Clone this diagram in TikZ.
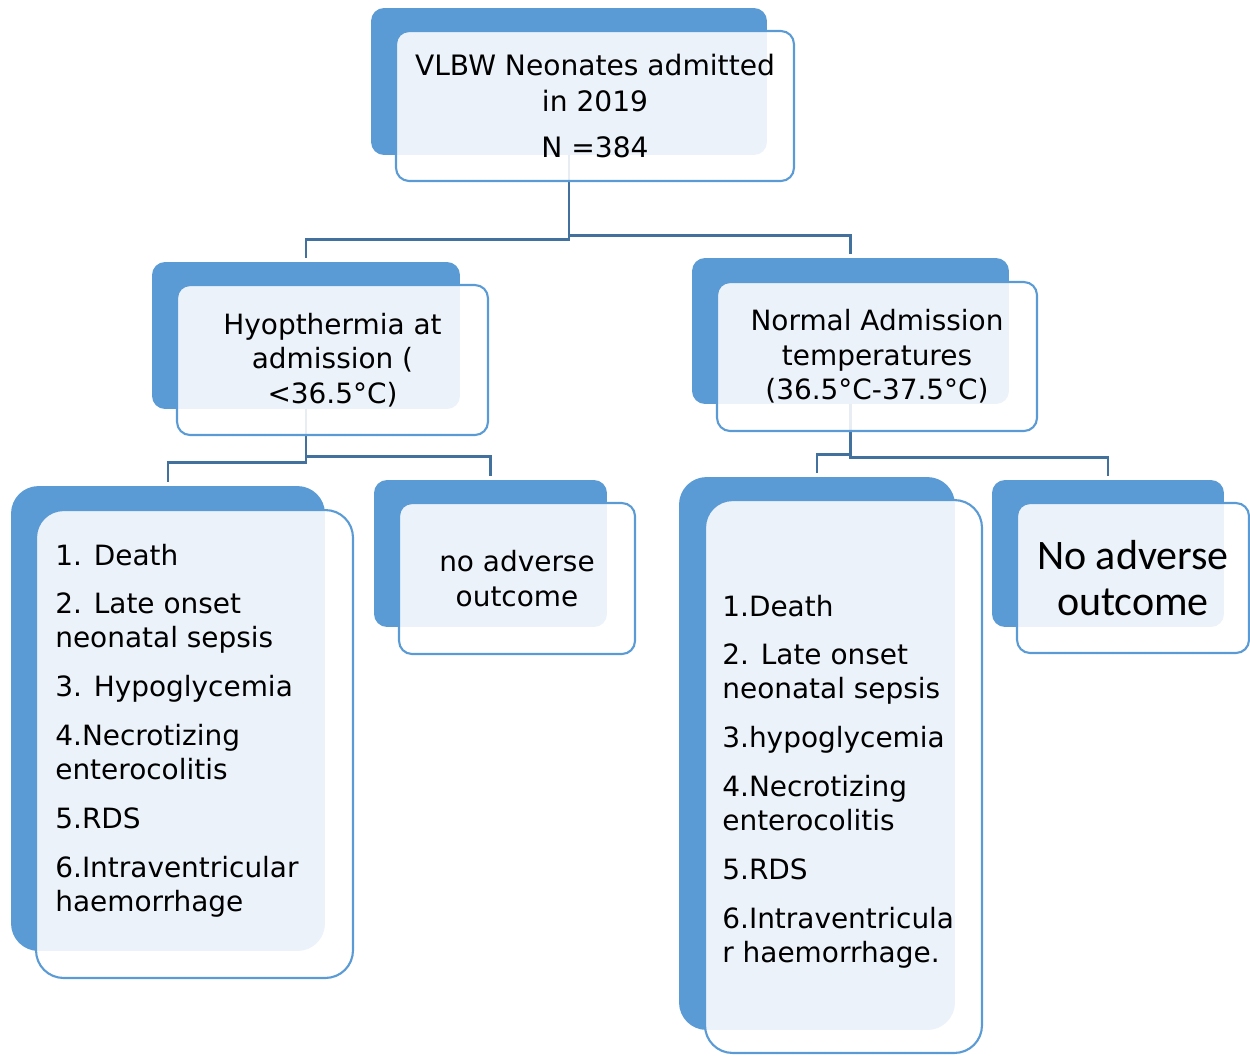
\documentclass[tikz,border=0pt]{standalone}
\usepackage{fontspec}
\setmainfont{DejaVu Sans}
\newfontfamily\calfont{Carlito}
\definecolor{boxblue}{HTML}{5B9BD5}
\definecolor{connblue}{HTML}{41719C}
\tikzset{
  backbox/.style={rectangle, fill=boxblue, inner sep=0pt, rounded corners=0.26cm},
  frontbox/.style={rectangle, fill=white, fill opacity=0.88, text opacity=1, draw=boxblue, line width=1.2pt, inner sep=0pt, rounded corners=0.26cm, align=center, font=\fontsize{15.9}{19.6}\selectfont},
  conn/.style={draw=connblue, line width=1.5pt, shorten >=2pt},
  listtext/.style={anchor=north west, inner sep=0pt, align=left, font=\fontsize{15.9}{19.3}\selectfont},
}
\begin{document}
\begin{tikzpicture}[x=0.02cm, y=-0.02cm]
\useasboundingbox (0,0) rectangle (1250,1055);
% back boxes
\node[backbox, minimum width=7.92cm, minimum height=2.94cm] (B1) at (569,81.5) {};
\node[backbox, minimum width=6.16cm, minimum height=2.94cm] (B2) at (306,335.5) {};
\node[backbox, minimum width=6.34cm, minimum height=2.92cm] (B3) at (850.5,331) {};
\node[backbox, minimum width=6.28cm, minimum height=9.3cm, rounded corners=0.55cm] (B4) at (168,718.5) {};
\node[backbox, minimum width=4.66cm, minimum height=2.94cm] (B5) at (490.5,553.5) {};
\node[backbox, minimum width=5.52cm, minimum height=11.06cm, rounded corners=0.55cm] (B6) at (817,753.5) {};
\node[backbox, minimum width=4.64cm, minimum height=2.94cm] (B7) at (1108,553.5) {};
% connectors
\draw[conn] (B1.south) -- ++(0,84) -| (B2.north);
\draw[conn] (B1.south) -- ++(0,80) -| (B3.north);
\draw[conn] (B2.south) -- ++(0,53) -| (B4.north);
\draw[conn] (B2.south) -- ++(0,47) -| (B5.north);
\draw[conn] (B3.south) -- ++(0,50) -| (B6.north);
\draw[conn] (B3.south) -- ++(0,53) -| (B7.north);
% front boxes
\node[frontbox, minimum width=7.96cm, minimum height=3.0cm, font=\fontsize{16}{20.4}\selectfont] (F1) at (595,106)
  {VLBW Neonates admitted\\ in 2019\\[6pt] N =384};
\node[frontbox, minimum width=6.22cm, minimum height=3.0cm] (F2) at (332.5,360)
  {Hyopthermia at\\ admission (\\ <36.5\textdegree C)};
\node[frontbox, minimum width=6.4cm, minimum height=2.98cm] (F3) at (877,356.5)
  {Normal Admission\\ temperatures\\ (36.5\textdegree C-37.5\textdegree C)};
\node[frontbox, minimum width=6.34cm, minimum height=9.36cm, rounded corners=0.55cm] (F4) at (194.5,744) {};
\node[frontbox, minimum width=4.72cm, minimum height=3.02cm] (F5) at (517,578.5)
  {no adverse\\ outcome};
\node[frontbox, minimum width=5.54cm, minimum height=11.06cm, rounded corners=0.55cm] (F6) at (843.5,776.5) {};
\node[frontbox, minimum width=4.64cm, minimum height=3.0cm, font=\calfont\fontsize{23.9}{26.6}\selectfont] (F7) at (1133,578)
  {No adverse\\ outcome};
% list texts
\node[listtext] (T4) at (55,543.5) {1. Death\\[8.5pt]
2. Late onset\\ neonatal sepsis\\[8.5pt]
3. Hypoglycemia\\[8.5pt]
4.Necrotizing\\ enterocolitis\\[8.5pt]
5.RDS\\[8.5pt]
6.Intraventricular\\ haemorrhage};
\node[listtext] (T6) at (722,594.5) {1.Death\\[8.5pt]
2. Late onset\\ neonatal sepsis\\[8.5pt]
3.hypoglycemia\\[8.5pt]
4.Necrotizing\\ enterocolitis\\[8.5pt]
5.RDS\\[8.5pt]
6.Intraventricula\\ r haemorrhage.};
\end{tikzpicture}
\end{document}
